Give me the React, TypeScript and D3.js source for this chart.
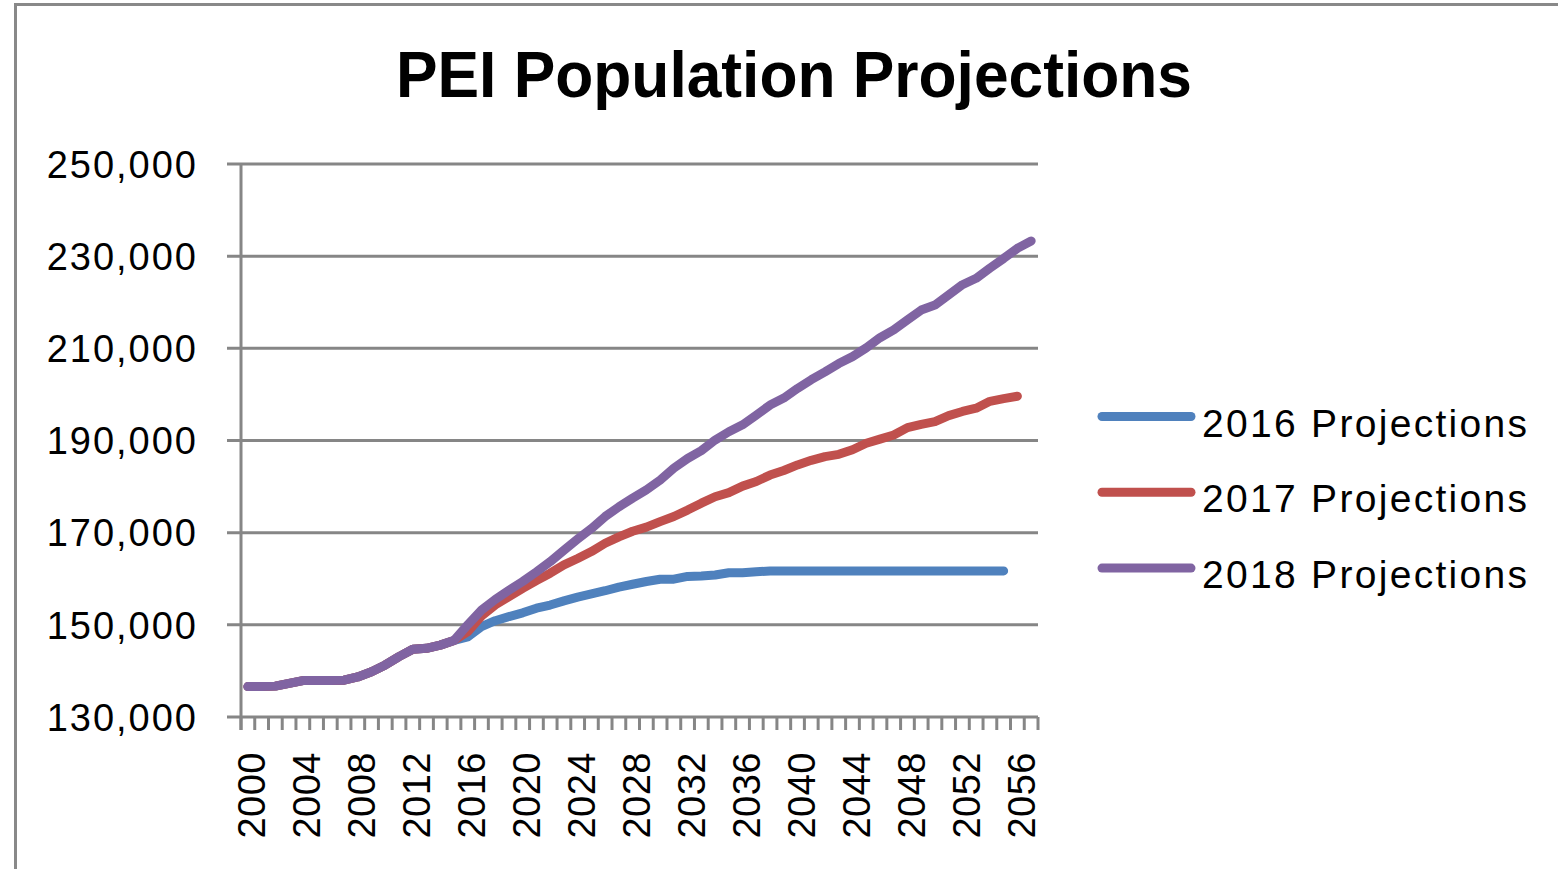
import React from "react";
import * as d3 from "d3";

const years: string[] = [
  "2000","2001","2002","2003","2004","2005","2006","2007","2008","2009",
  "2010","2011","2012","2013","2014","2015","2016","2017","2018","2019",
  "2020","2021","2022","2023","2024","2025","2026","2027","2028","2029",
  "2030","2031","2032","2033","2034","2035","2036","2037","2038","2039",
  "2040","2041","2042","2043","2044","2045","2046","2047","2048","2049",
  "2050","2051","2052","2053","2054","2055","2056","2057",
];

const tickLabels: string[] = [
  "2000","2004","2008","2012","2016","2020","2024","2028",
  "2032","2036","2040","2044","2048","2052","2056",
];

const yTicks: number[] = [130000, 150000, 170000, 190000, 210000, 230000, 250000];

const history: number[] = [
  136600, 136600, 136700, 137300, 137900, 137900, 137900, 138000,
  138700, 139800, 141300, 143100, 144700, 144900, 145600, 146600,
];

const proj2016: number[] = [
  147400, 149600, 150900, 151800, 152600, 153600, 154300, 155200, 156000, 156700,
  157400, 158200, 158800, 159400, 159900, 159900, 160500, 160600, 160800, 161300,
  161300, 161500, 161700, 161700, 161700, 161700, 161700, 161700, 161700, 161700,
  161700, 161700, 161700, 161700, 161700, 161700, 161700, 161700, 161700, 161700,
];

const proj2017: number[] = [
  148500, 151900, 154300, 156100, 157900, 159600, 161200, 163000, 164400, 165900,
  167700, 169100, 170300, 171200, 172400, 173500, 174900, 176400, 177800, 178700,
  180100, 181100, 182500, 183500, 184700, 185700, 186500, 187000, 188000, 189400,
  190300, 191200, 192800, 193500, 194100, 195400, 196300, 197000, 198500, 199100,
  199600,
];

const proj2018: number[] = [
  150000, 153200, 155500, 157500, 159400, 161500, 163700, 166200, 168600, 170900,
  173500, 175600, 177500, 179300, 181400, 184000, 186100, 187800, 190100, 191900,
  193400, 195500, 197700, 199200, 201300, 203200, 204900, 206700, 208200, 210100,
  212300, 214000, 216200, 218300, 219400, 221600, 223800, 225200, 227400, 229500,
  231700, 233300,
];

const seriesNames: string[] = ["2016 Projections", "2017 Projections", "2018 Projections"];
const seriesColors: string[] = ["#4F81BD", "#C0504D", "#8064A2"];

const FONT = "'Liberation Sans', Arial, sans-serif";
const GRID = "#868686";

export default function App() {
  const left = 241, right = 1038, top = 164, bottom = 717;
  const x = d3.scaleBand<string>().domain(years).range([left, right]).padding(0);
  const bw = x.bandwidth();
  const cx = (yr: string) => (x(yr) as number) + bw / 2;
  const y = d3.scaleLinear().domain([130000, 250000]).range([bottom, top]);
  const fmt = d3.format(",");

  const seriesData = [proj2016, proj2017, proj2018].map((p) =>
    history.concat(p).map((v, i) => ({ year: years[i], v }))
  );

  const line = d3
    .line<{ year: string; v: number }>()
    .x((d) => cx(d.year))
    .y((d) => y(d.v));

  const boundaries = d3.range(years.length + 1).map((i) => left + i * bw);

  return (
    <svg
      width={1558}
      height={869}
      style={{ position: "absolute", left: 0, top: 0, background: "#fff" }}
    >
      <rect x={0} y={0} width={1558} height={869} fill="#fff" />
      <path d="M15.5,900 V4.5 H1600" fill="none" stroke="#898989" strokeWidth={3} />

      <text
        x={396}
        y={97}
        fontFamily={FONT}
        fontWeight="bold"
        fontSize={64}
        textLength={796}
        lengthAdjust="spacingAndGlyphs"
        fill="#000"
      >
        PEI Population Projections
      </text>

      {yTicks.map((t) => (
        <g key={t}>
          <line x1={227} x2={right} y1={y(t)} y2={y(t)} stroke={GRID} strokeWidth={3} />
          <text
            x={198}
            y={y(t)}
            dy="0.36em"
            textAnchor="end"
            fontFamily={FONT}
            fontSize={38}
            letterSpacing={2}
            fill="#000"
          >
            {fmt(t)}
          </text>
        </g>
      ))}

      <line x1={left} x2={left} y1={top - 1} y2={730} stroke={GRID} strokeWidth={3} />
      {boundaries.map((bx, i) => (
        <line key={i} x1={bx} x2={bx} y1={bottom} y2={730} stroke={GRID} strokeWidth={3} />
      ))}

      {tickLabels.map((t) => (
        <text
          key={t}
          transform={`translate(${cx(t) + 4},752) rotate(-90)`}
          dy="0.35em"
          textAnchor="end"
          fontFamily={FONT}
          fontSize={38}
          letterSpacing={0.5}
          fill="#000"
        >
          {t}
        </text>
      ))}

      {seriesData.map((d, i) => (
        <path
          key={i}
          d={line(d) || ""}
          fill="none"
          stroke={seriesColors[i]}
          strokeWidth={9}
          strokeLinejoin="round"
          strokeLinecap="round"
        />
      ))}

      {seriesNames.map((n, i) => {
        const ly = 416.5 + i * 75.8;
        return (
          <g key={n}>
            <line
              x1={1102}
              x2={1191}
              y1={ly}
              y2={ly}
              stroke={seriesColors[i]}
              strokeWidth={9}
              strokeLinecap="round"
            />
            <text
              x={1202}
              y={ly + 20}
              fontFamily={FONT}
              fontSize={39}
              letterSpacing={2.3}
              fill="#000"
            >
              {n}
            </text>
          </g>
        );
      })}
    </svg>
  );
}
